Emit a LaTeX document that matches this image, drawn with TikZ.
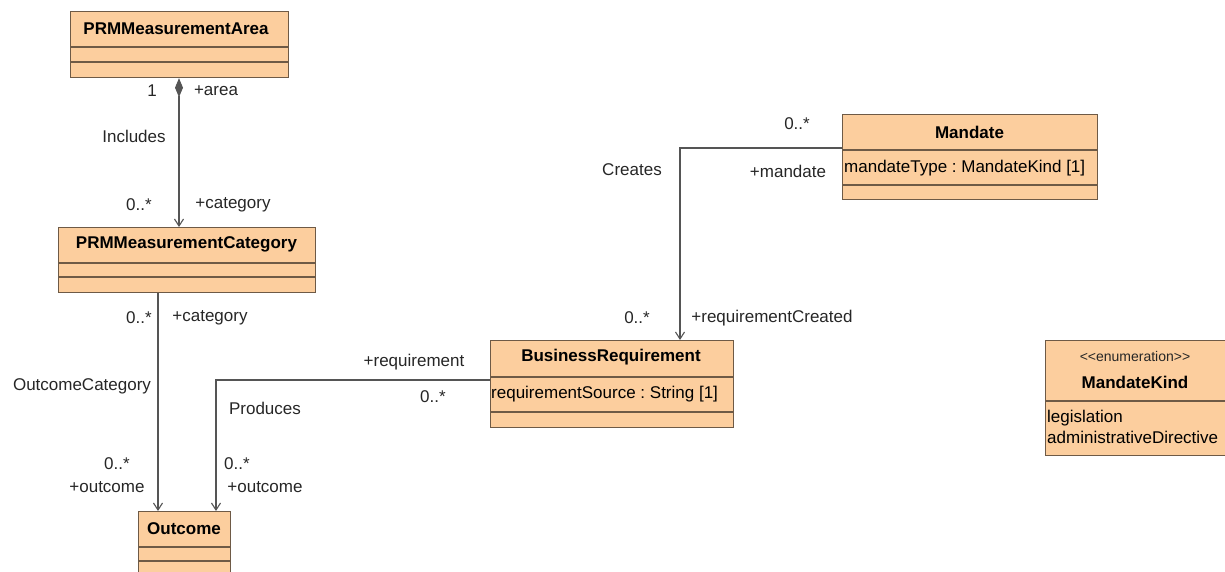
\documentclass[tikz,border=0pt]{standalone}
\usepackage{fontspec}
\setmainfont{Liberation Sans}
\usetikzlibrary{arrows.meta,calc}
\definecolor{clsfill}{RGB}{252,206,158}
\definecolor{clsline}{RGB}{110,90,70}
\definecolor{conn}{RGB}{85,85,85}
\frenchspacing
\tikzset{
  cls/.style={draw=clsline, fill=clsfill, line width=1.2pt, anchor=north west, inner sep=0pt, rectangle},
  sep/.style={draw=clsline, line width=1.2pt},
  title/.style={font=\fontsize{17}{20}\selectfont\bfseries, inner sep=0pt},
  attr/.style={font=\fontsize{17}{20}\selectfont, inner sep=0pt, anchor=west},
  lbl/.style={font=\fontsize{17}{20}\selectfont, inner sep=0pt, text=black!85},
  assoc/.style={draw=conn, line width=1.1pt, -{Straight Barb[length=7pt,width=9pt]}},
  comp/.style={draw=conn, line width=1.1pt, {Diamond[length=19pt,width=8pt,fill=conn]}-{Straight Barb[length=7pt,width=9pt]}},
}
\begin{document}
\begin{tikzpicture}[x=1pt,y=-1pt]
\useasboundingbox (0,0) rectangle (1225,571);
\begin{scope}
\clip (0,0) rectangle (1225,571);
% PRMMeasurementArea
\node[cls, minimum width=218pt, minimum height=66pt] (area) at (70,11) {};
\draw[sep] (70,47) -- (288,47);
\draw[sep] (70,62) -- (288,62);
\node[title] (areaT) at (176,29) {PRMMeasurementArea};
% PRMMeasurementCategory
\node[cls, minimum width=257pt, minimum height=65pt] (cat) at (58,227) {};
\draw[sep] (58,263) -- (315,263);
\draw[sep] (58,277) -- (315,277);
\node[title] (catT) at (186.5,244) {PRMMeasurementCategory};
% Outcome
\node[cls, minimum width=92pt, minimum height=70pt] (out) at (138,511) {};
\draw[sep] (138,547) -- (230,547);
\draw[sep] (138,561) -- (230,561);
\node[title] (outT) at (184,529) {Outcome};
% BusinessRequirement
\node[cls, minimum width=243pt, minimum height=87pt] (br) at (490,340) {};
\draw[sep] (490,377) -- (733,377);
\draw[sep] (490,412) -- (733,412);
\node[title] (brT) at (611,357) {BusinessRequirement};
\node[attr] (brA) at (491,394) {requirementSource : String [1]};
% Mandate
\node[cls, minimum width=255pt, minimum height=85pt] (man) at (842,114) {};
\draw[sep] (842,150) -- (1097,150);
\draw[sep] (842,185) -- (1097,185);
\node[title] (manT) at (969.5,132) {Mandate};
\node[attr] (manA) at (844,168) {mandateType : MandateKind [1]};
% MandateKind
\node[cls, minimum width=190pt, minimum height=115pt] (mk) at (1045,340) {};
\draw[sep] (1045,401) -- (1235,401);
\node[lbl, font=\fontsize{14}{16}\selectfont] (mkS) at (1135,356) {{<}{<}enumeration{>}{>}};
\node[title] (mkT) at (1135,382) {MandateKind};
\node[attr] (mkA1) at (1047,418) {legislation};
\node[attr] (mkA2) at (1047,437) {administrativeDirective};
\end{scope}
% connectors
\coordinate (a1) at ($(area.south west)+(109,0)$);
\draw[comp] (a1) -- (a1 |- cat.north);
\coordinate (c1) at ($(cat.south west)+(100,0)$);
\draw[assoc] (c1) -- (c1 |- out.north);
\coordinate (b1) at ($(br.north west)+(0,40)$);
\coordinate (b2) at ($(out.north west)+(78,0)$);
\draw[assoc] (b1) -- (b2 |- b1) -- (b2);
\coordinate (m1) at ($(man.north west)+(0,34)$);
\coordinate (m2) at ($(br.north west)+(190,0)$);
\draw[assoc] (m1) -- (m2 |- m1) -- (m2);
% labels
\node[lbl] (l1) at (152,91) {1};
\node[lbl] (l2) at (216,91) {+area};
\node[lbl] (l3) at (134,136) {Includes};
\node[lbl] (l4) at (139,205) {0..*};
\node[lbl] (l5) at (233,205) {+category};
\node[lbl] (l6) at (139,318) {0..*};
\node[lbl] (l7) at (210,318) {+category};
\node[lbl] (l8) at (82,386) {OutcomeCategory};
\node[lbl] (l9) at (117,464) {0..*};
\node[lbl] (l10) at (107,487) {+outcome};
\node[lbl] (l11) at (414,362) {+requirement};
\node[lbl] (l12) at (433,397) {0..*};
\node[lbl] (l13) at (265,408) {Produces};
\node[lbl] (l14) at (237,464) {0..*};
\node[lbl] (l15) at (265,487) {+outcome};
\node[lbl] (l16) at (797,124) {0..*};
\node[lbl] (l17) at (788,171) {+mandate};
\node[lbl] (l18) at (632,170) {Creates};
\node[lbl] (l19) at (637,318) {0..*};
\node[lbl] (l20) at (772,318) {+requirementCreated};
\end{tikzpicture}
\end{document}
